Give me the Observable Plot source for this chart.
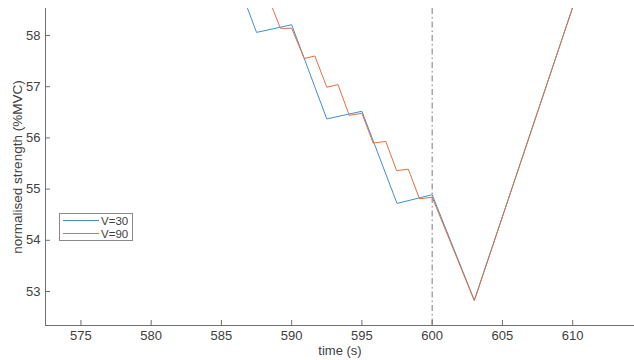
<!DOCTYPE html>
<html><head><meta charset="utf-8">
<script src="https://cdn.jsdelivr.net/npm/d3@7"></script>
<script src="https://cdn.jsdelivr.net/npm/@observablehq/plot@0.6"></script>
<style>body{margin:0;background:#fff} #chart{position:relative;width:634px;height:360px}</style>
</head><body><div id="chart"></div>
<script>
// Data
const seriesNames = ["V=30", "V=90"];
const seriesColors = ["#3f8fd0", "#e0703f"];
const blueT = [586.6, 587.5, 590.0, 592.5, 595.0, 597.5, 600.0, 603.0, 610.0];
const blueV = [58.72, 58.06, 58.21, 56.37, 56.52, 54.72, 54.89, 52.83, 58.55];
const orangeT = [588.4, 589.2, 590.0, 590.9, 591.65, 592.5, 593.3, 594.1, 595.0, 595.8, 596.7, 597.47, 598.3, 599.1, 600.0, 603.0, 610.0];
const orangeV = [58.70, 58.14, 58.14, 57.55, 57.60, 56.99, 57.04, 56.44, 56.48, 55.90, 55.93, 55.36, 55.39, 54.81, 54.84, 52.82, 58.55];
const markerTime = [600];
const xTicks = [575, 580, 585, 590, 595, 600, 605, 610];
const yTicks = [53, 54, 55, 56, 57, 58];
const xLabel = "time (s)";
const yLabel = "normalised strength (%MVC)";

const W = 634, H = 360, mL = 45, mR = 0, mT = 8, mB = 35;
const innerW = W - mL - mR, innerH = H - mT - mB;
const blue = blueT.map((t, i) => ({t, v: blueV[i]}));
const orange = orangeT.map((t, i) => ({t, v: orangeV[i]}));
const axisColor = "#707070";
const textColor = "#404040";
const font = "'Liberation Sans', Arial, sans-serif";

const plot = Plot.plot({
  width: W, height: H,
  marginLeft: mL, marginRight: mR, marginTop: mT, marginBottom: mB,
  style: {fontFamily: font, fontSize: "13px", color: textColor, background: "#fff", overflow: "visible"},
  x: {domain: [572.48, 614.4]},
  y: {domain: [52.336, 58.527]},
  marks: [
    Plot.ruleX(markerTime, {stroke: "#7a7a7a", strokeWidth: 1, strokeDasharray: "6,3,1.5,3"}),
    Plot.line(blue, {x: "t", y: "v", stroke: seriesColors[0], strokeWidth: 1, clip: true}),
    Plot.line(orange, {x: "t", y: "v", stroke: seriesColors[1], strokeWidth: 1, clip: true}),
    Plot.axisX(xTicks, {tickSize: 0, tickPadding: 5, label: null, fill: textColor, fontSize: 13, tickFormat: d3.format("d")}),
    Plot.axisY(yTicks, {tickSize: 0, tickPadding: 5, label: null, fill: textColor, fontSize: 13, tickFormat: d3.format("d")}),
    Plot.tickX(xTicks, {x: d => d, insetTop: innerH - 5, stroke: axisColor}),
    Plot.tickY(yTicks, {y: d => d, insetRight: innerW - 5, stroke: axisColor}),
    Plot.frame({anchor: "left", stroke: axisColor}),
    Plot.frame({anchor: "bottom", stroke: axisColor}),
    Plot.text([xLabel], {frameAnchor: "bottom", dy: 29, textAnchor: "middle", fontSize: 13, fill: textColor}),
    Plot.text([yLabel], {frameAnchor: "left", dx: -28, rotate: -90, textAnchor: "middle", fontSize: 13.5, fill: textColor})
  ]
});
document.getElementById("chart").appendChild(plot);

// Legend box inside the axes, as in the reference
const svg = d3.select(plot);
const lg = svg.append("g").attr("font-family", font).attr("font-size", 11.5).attr("text-anchor", "start");
lg.append("rect").attr("x", 59.5).attr("y", 213.5).attr("width", 73).attr("height", 27)
  .attr("fill", "#fff").attr("stroke", "#8a8a8a").attr("stroke-width", 1);
seriesNames.forEach((name, i) => {
  const y = 220.5 + i * 13;
  lg.append("line").attr("x1", 63).attr("x2", 99).attr("y1", y).attr("y2", y)
    .attr("stroke", seriesColors[i]).attr("stroke-width", 1);
  lg.append("text").attr("x", 101).attr("y", y).attr("dy", "0.35em").attr("fill", textColor).text(name);
});
</script>
</body></html>
